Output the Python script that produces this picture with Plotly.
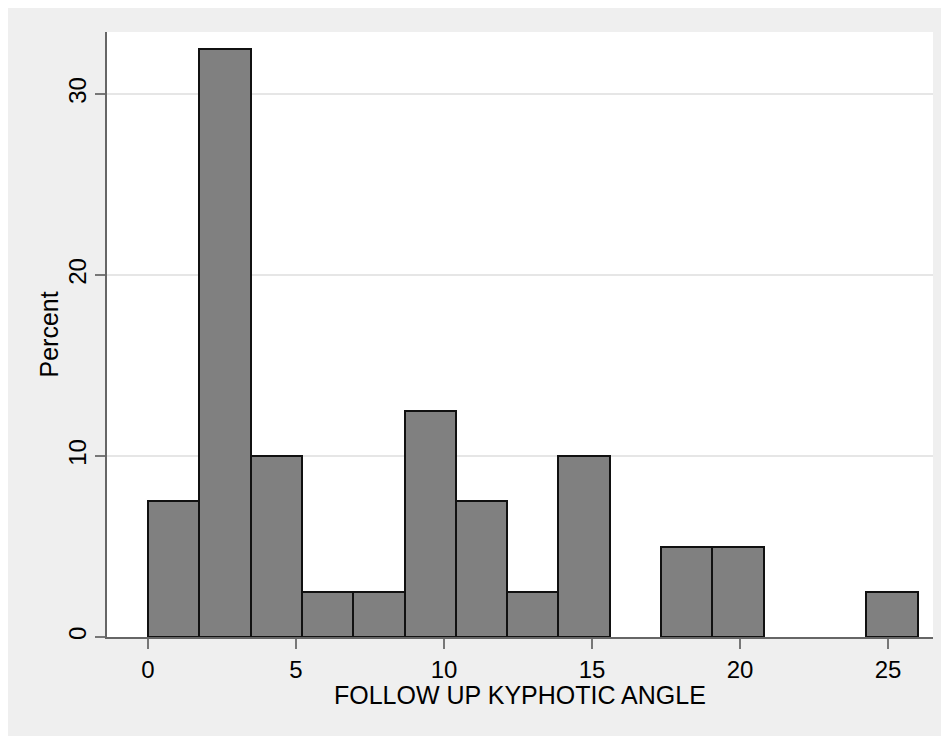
import plotly.graph_objects as go

# Histogram data (percent per bin), 15 bins from 0 to 26
bin_start = 0.0
bin_end = 26.0
percents = [7.5, 32.5, 10, 2.5, 2.5, 12.5, 7.5, 2.5, 10, None, 5, 5, None, None, 2.5]
x_ticks = [0, 5, 10, 15, 20, 25]
y_ticks = [0, 10, 20, 30]
x_title = "FOLLOW UP KYPHOTIC ANGLE"
y_title = "Percent"

n = len(percents)
w = (bin_end - bin_start) / n
centers = [bin_start + w * (i + 0.5) for i in range(n)]

FONT = "Liberation Sans, Arial, sans-serif"
PLOT_W = 949 - 99 - 24
PLOT_H = 736 - 24 - 107

fig = go.Figure(go.Bar(
    x=centers, y=percents, width=w,
    marker=dict(color="#808080", line=dict(color="#111111", width=2)),
    hoverinfo="x+y",
))

fig.update_layout(
    width=949, height=736,
    margin=dict(l=99, r=24, t=24, b=107),
    paper_bgcolor="#efefef",
    plot_bgcolor="#ffffff",
    bargap=0,
    showlegend=False,
    font=dict(family=FONT, size=24, color="#000000"),
    xaxis=dict(
        range=[-1.385, 26.52], tickvals=x_ticks, ticks="outside", ticklen=10,
        tickcolor="#777777", tickwidth=1.5, showline=True, linecolor="#666666", linewidth=1.5,
        showgrid=False, zeroline=False,
        tickfont=dict(size=24),
    ),
    yaxis=dict(
        range=[0, 33.43], tickvals=y_ticks, ticks="outside", ticklen=10, tickangle=-90,
        tickcolor="#777777", tickwidth=1.5, showline=True, linecolor="#666666", linewidth=1.5,
        showgrid=True, gridcolor="#e6e6e6", gridwidth=2, zeroline=False,
        tickfont=dict(size=24),
    ),
    annotations=[
        dict(text=x_title, xref="paper", yref="paper", x=0.5, y=-58 / PLOT_H,
             xanchor="center", yanchor="middle", showarrow=False, font=dict(size=25)),
        dict(text=y_title, xref="paper", yref="paper", x=-59 / PLOT_W, y=0.5, textangle=-90,
             xanchor="center", yanchor="middle", showarrow=False, font=dict(size=25)),
    ],
)

fig.write_html("out.html")
